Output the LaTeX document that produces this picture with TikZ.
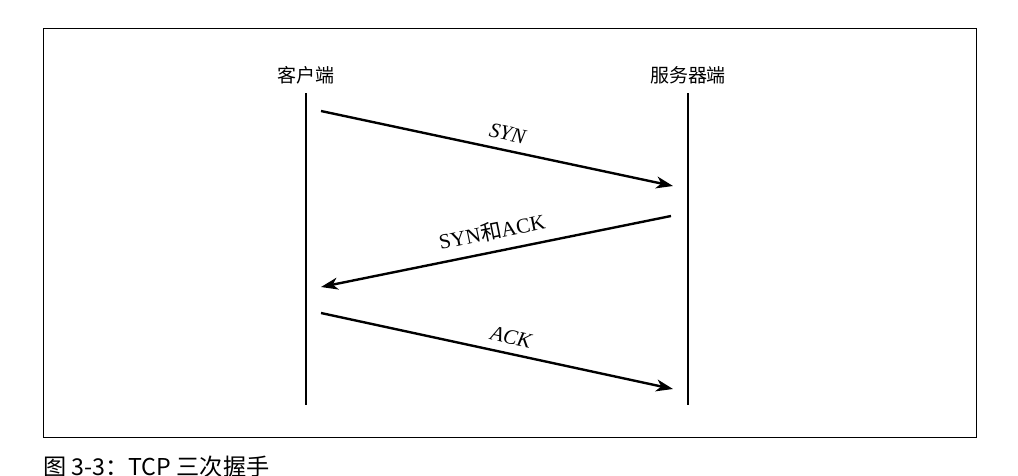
\documentclass[tikz,border=0pt]{standalone}
\usepackage{fontspec}
\setmainfont{Liberation Serif}
\newfontfamily\cjk{Noto Sans CJK SC}
\usepackage{tikz}
\usetikzlibrary{arrows.meta, positioning, calc}

\begin{document}
\begin{tikzpicture}[x=0.025cm, y=-0.025cm, >={Stealth[length=12pt, width=8.5pt, inset=3.5pt]},
    party/.style={font=\cjk\fontsize{13.5}{15}\selectfont, inner sep=0pt},
    life/.style={line width=2pt},
    msg/.style={->, line width=1.7pt},
    lbl/.style={font=\fontsize{15}{17}\selectfont, sloped, above=6pt, inner sep=0pt}]

\useasboundingbox (0,0) rectangle (1018,475);
\draw[line width=0.7pt] (43,28) rectangle (976,437);

% the two ends
\node[party] (client) at (306,75) {客户端};
\node[party] (server) at (688,75) {服务器端};

\coordinate (ctop) at (306,93);
\coordinate (cbot) at (306,405);
\coordinate (stop) at (688,93);
\coordinate (sbot) at (688,405);
\draw[life] (ctop) -- (cbot);
\draw[life] (stop) -- (sbot);

% handshake
\coordinate (c1) at (321,111);
\coordinate (s1) at (673,186);
\coordinate (s2) at (671,216);
\coordinate (c2) at (321,287);
\coordinate (c3) at (321,313);
\coordinate (s3) at (673,389);

\draw[msg] (c1) -- node[lbl, pos=0.52] (syn) {\itshape SYN} (s1);
\draw[msg] (s2) -- node[lbl, pos=0.5, above=7pt] (synack) {SYN{\cjk 和}ACK} (c2);
\draw[msg] (c3) -- node[lbl, pos=0.53] (ack) {\itshape ACK} (s3);

\node[anchor=west, inner sep=0pt, font=\cjk\fontsize{16.5}{18}\selectfont] (caption) at (43,467) {图 3-3：TCP 三次握手};

\end{tikzpicture}
\end{document}
